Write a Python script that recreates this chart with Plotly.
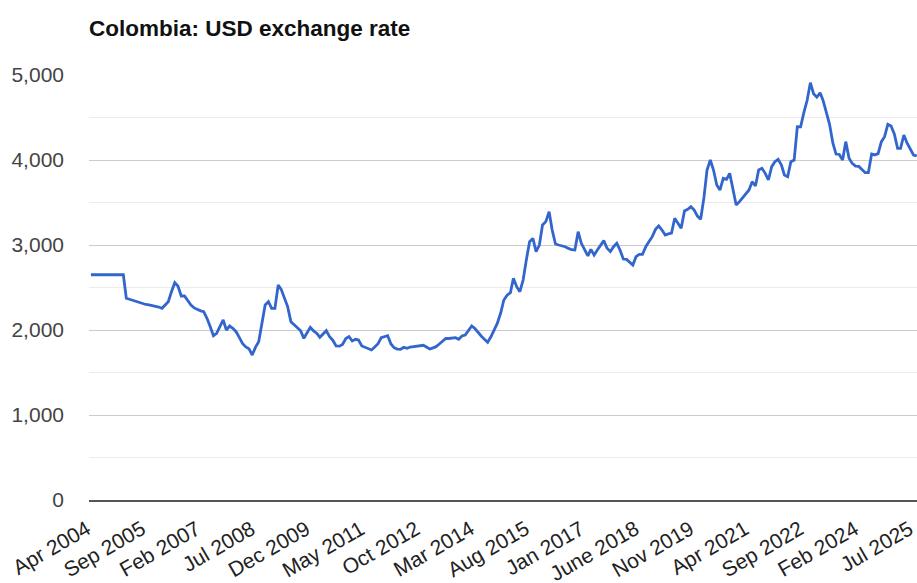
import pandas as pd
import plotly.graph_objects as go

title_text = "Colombia: USD exchange rate"
start_month = "2004-04-01"

usd_cop = [
    2650, 2650, 2650, 2650, 2650, 2650, 2650, 2650, 2650, 2650,
    2650, 2373, 2360, 2350, 2340, 2325, 2310, 2300, 2295, 2288,
    2280, 2270, 2255, 2290, 2333, 2450, 2557, 2518, 2400, 2400,
    2350, 2294, 2260, 2240, 2225, 2216, 2137, 2040, 1933, 1961,
    2040, 2118, 2000, 2047, 2020, 1980, 1910, 1843, 1800, 1780,
    1706, 1796, 1863, 2100, 2294, 2333, 2255, 2255, 2529, 2478,
    2380, 2275, 2098, 2060, 2031, 1990, 1902, 1970, 2031, 1990,
    1960, 1914, 1960, 1992, 1920, 1880, 1812, 1810, 1830, 1900,
    1922, 1871, 1890, 1882, 1812, 1796, 1780, 1765, 1800, 1840,
    1910, 1925, 1933, 1835, 1790, 1776, 1773, 1796, 1784, 1800,
    1804, 1804, 1810, 1820, 1800, 1776, 1790, 1804, 1835, 1870,
    1902, 1900, 1905, 1910, 1890, 1929, 1941, 1990, 2047, 2020,
    1970, 1930, 1890, 1855, 1920, 2000, 2080, 2200, 2353, 2410,
    2440, 2608, 2510, 2451, 2588, 2824, 3039, 3078, 2922, 3000,
    3235, 3275, 3392, 3176, 3012, 3000, 2990, 2980, 2960, 2945,
    2941, 3157, 3020, 2949, 2871, 2949, 2882, 2941, 3000, 3051,
    2961, 2922, 2980, 3020, 2941, 2835, 2831, 2800, 2765, 2863,
    2890, 2890, 2980, 3040, 3098, 3184, 3224, 3176, 3118, 3130,
    3140, 3314, 3255, 3196, 3400, 3420, 3450, 3410, 3340, 3302,
    3560, 3882, 4000, 3882, 3706, 3647, 3784, 3772, 3843, 3667,
    3471, 3510, 3560, 3600, 3647, 3745, 3694, 3882, 3902, 3843,
    3765, 3922, 3980, 4008, 3941, 3824, 3804, 3980, 4000, 4392,
    4390, 4560, 4700, 4910, 4780, 4740, 4790, 4700, 4560, 4420,
    4200, 4070, 4065, 4000, 4216, 4020, 3960, 3929, 3925, 3890,
    3851, 3851, 4071, 4060, 4075, 4216, 4275, 4420, 4400, 4306,
    4137, 4137, 4294, 4200, 4125, 4059, 4047,
]

tick_dates = [
    "2004-04-01", "2005-09-01", "2007-02-01", "2008-07-01", "2009-12-01",
    "2011-05-01", "2012-10-01", "2014-03-01", "2015-08-01", "2017-01-01",
    "2018-06-01", "2019-11-01", "2021-04-01", "2022-09-01", "2024-02-01",
    "2025-07-01",
]
tick_labels = [
    "Apr 2004", "Sep 2005", "Feb 2007", "Jul 2008", "Dec 2009",
    "May 2011", "Oct 2012", "Mar 2014", "Aug 2015", "Jan 2017",
    "June 2018", "Nov 2019", "Apr 2021", "Sep 2022", "Feb 2024",
    "Jul 2025",
]

y_tick_vals = [0, 1000, 2000, 3000, 4000, 5000]
y_tick_text = ["0", "1,000", "2,000", "3,000", "4,000", "5,000"]

dates = pd.date_range(start_month, periods=len(usd_cop), freq="MS")

fig = go.Figure()
fig.add_trace(go.Scatter(
    x=dates, y=usd_cop, mode="lines",
    line=dict(color="#3366CC", width=2.8),
    hoverinfo="x+y", showlegend=False,
))

x_start = dates[0] - pd.Timedelta(days=18)
x_end = dates[-1] + pd.Timedelta(days=2)

fig.update_layout(
    width=917, height=583,
    margin=dict(l=89, r=0, t=75, b=83, pad=0),
    paper_bgcolor="white", plot_bgcolor="white",
    font=dict(family="Liberation Sans, Arial, sans-serif", size=20, color="#444"),
    title=dict(
        text="<b>" + title_text + "</b>",
        x=89 / 917, xref="container", xanchor="left",
        y=1 - 28 / 583, yref="container", yanchor="middle",
        font=dict(size=22.5, color="#111", family="Liberation Sans, Arial, sans-serif"),
    ),
    xaxis=dict(
        type="date", range=[x_start, x_end],
        tickvals=list(pd.to_datetime(tick_dates)), ticktext=tick_labels,
        tickangle=-30, showgrid=False, zeroline=False,
        showline=True, linecolor="#555", linewidth=2,
        ticks="", automargin=False, ticklabelstandoff=7,
        ticklabelshift=-4,
        ticklabeloverflow="allow",
        tickfont=dict(size=21, color="#222"),
    ),
    yaxis=dict(
        range=[0, 5000], tickvals=y_tick_vals, ticktext=y_tick_text,
        showgrid=True, gridcolor="#cccccc", gridwidth=1,
        minor=dict(dtick=500, showgrid=True, gridcolor="#ebebeb", gridwidth=1),
        zeroline=False, showline=False, ticks="",
        ticklabelstandoff=24, automargin=False,
        tickfont=dict(size=21, color="#444"),
    ),
)

fig.write_html(
    "out.html",
    config={"displayModeBar": False},
    post_script="document.body.style.margin='0px';document.body.style.overflow='hidden';",
)
